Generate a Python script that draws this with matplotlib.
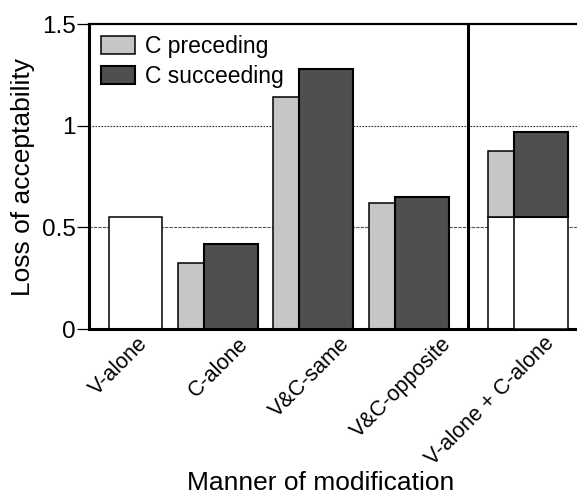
import matplotlib
matplotlib.use("Agg")
import matplotlib.pyplot as plt

plt.rcParams['font.family'] = ['Liberation Sans', 'DejaVu Sans']

categories = ['V-alone', 'C-alone', 'V&C-same', 'V&C-opposite', 'V-alone + C-alone']
v_alone = 0.55
c_preceding = [0.325, 1.14, 0.62]    # C-alone, V&C-same, V&C-opposite
c_succeeding = [0.42, 1.28, 0.65]
yticks = [0, 0.5, 1, 1.5]
yticklabels = ['0', '0.5', '1', '1.5']

# layout (pixel-like x units)
centers = [135.5, 218, 313, 409, 528]
label_pos = [137, 238, 339, 441, 544]
bw = 54
light_c = '#c6c6c6'
dark_c = '#4f4f4f'

fig = plt.figure(figsize=(5.77, 4.96), dpi=100)
ax = fig.add_axes([89/577, 1-329/496, (580-89)/577, (329-24)/496])
ax.set_xlim(89, 580)
ax.set_ylim(0, 1.5)

for y, ls, c in [(0.5, (0, (3, 1)), '#555555'), (1.0, (0, (1.5, 1.2)), '#333333')]:
    ax.axhline(y, color=c, lw=0.8, ls=ls, zorder=0)

# V-alone
ax.bar(centers[0] - 26.5, v_alone, width=53, align='edge', color='white',
       edgecolor='black', lw=1.1, zorder=2)
# grouped bars
for i in range(3):
    c = centers[i + 1]
    ax.bar(c - 40, c_preceding[i], width=bw, align='edge', color=light_c,
           edgecolor='black', lw=1.1, zorder=2,
           label='C preceding' if i == 0 else None)
    ax.bar(c - 14, c_succeeding[i], width=bw, align='edge', color=dark_c,
           edgecolor='black', lw=1.5, zorder=3,
           label='C succeeding' if i == 0 else None)
# V-alone + C-alone (stacked)
c = centers[4]
ax.bar(c - 40, v_alone, width=bw, align='edge', color='white', edgecolor='black', lw=1.1, zorder=2)
ax.bar(c - 40, c_preceding[0], bottom=v_alone, width=bw, align='edge', color=light_c,
       edgecolor='black', lw=1.1, zorder=2)
ax.bar(c - 14, v_alone, width=bw, align='edge', color='white', edgecolor='black', lw=1.1, zorder=3)
ax.bar(c - 14, c_succeeding[0], bottom=v_alone, width=bw, align='edge', color=dark_c,
       edgecolor='black', lw=1.5, zorder=3)

ax.axvline(468, color='black', lw=2.2, zorder=4)

for s in ['left', 'bottom']:
    ax.spines[s].set_linewidth(2.2)
ax.spines['top'].set_linewidth(1.6)
ax.spines['right'].set_linewidth(1.6)

ax.set_yticks(yticks)
ax.set_yticklabels(yticklabels, fontsize=17.5)
ax.tick_params(axis='y', length=8.5, width=0.9, pad=1)
ax.set_xticks(label_pos)
ax.set_xticklabels(categories, fontsize=15.5, rotation=45, ha='right',
                   rotation_mode='anchor', va='top')
ax.tick_params(axis='x', length=0, pad=3)

ax.set_ylabel('Loss of acceptability', fontsize=19, labelpad=5)
ax.set_xlabel('Manner of modification', fontsize=19, va='baseline')
ax.xaxis.set_label_coords((321 - 89) / 491, (329 - 490) / 305)

leg = ax.legend(loc='upper left', bbox_to_anchor=(12 / 491, 1 - 11 / 305),
                frameon=False, fontsize=16.5, handlelength=1.5, handleheight=0.85,
                handletextpad=0.4, labelspacing=0.3, borderpad=0, borderaxespad=0)

fig.savefig('out.png', dpi=100)
